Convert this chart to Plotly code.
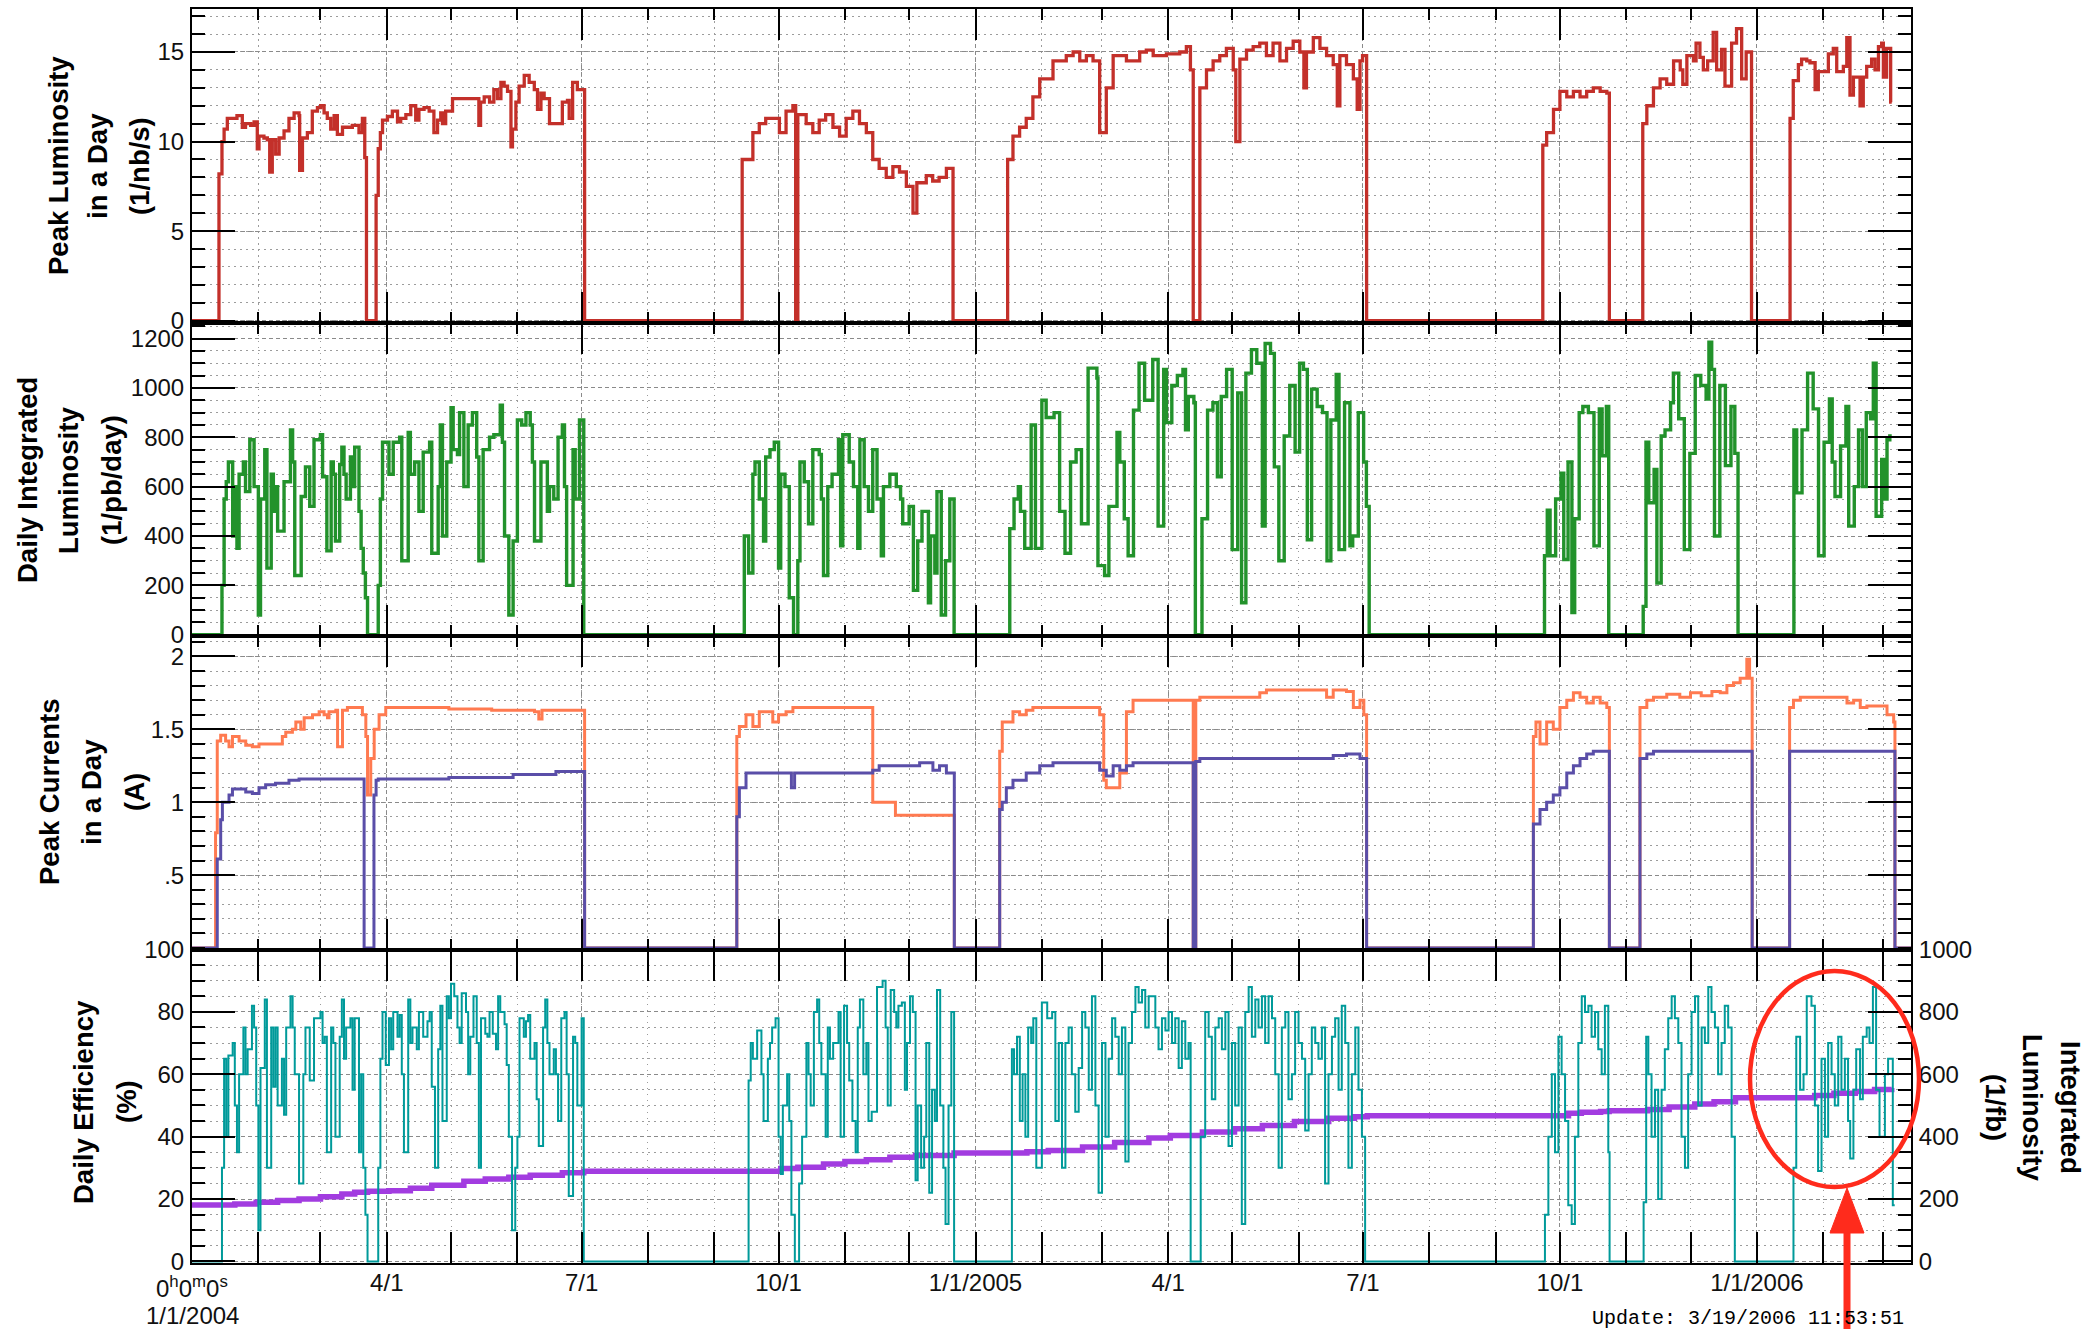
import pandas as pd
import plotly.graph_objects as go

# ---------------- data (day offset from 2004-01-01, value) ----------------
START = pd.Timestamp("2004-01-01")
X_START, X_END = "2004-01-01", "2006-03-14"

peak_lumi = [
    (0, 0), (12.6, 8.2), (14, 10.0), (15, 10.7), (16.5, 11.3), (21, 11.45), (23.5, 10.8), (25, 11.0), (27.4, 10.9),
    (29, 11.1), (30.5, 9.6), (31.3, 10.3), (33.6, 10.2), (35.2, 10.1), (36.3, 8.3), (37.5, 10.1), (39.1, 9.3),
    (40.7, 10.2), (43, 10.6), (45.3, 11.3), (47.7, 11.6), (50, 11.45), (50.3, 8.4), (51.6, 10.2), (53.9, 10.5),
    (56.2, 11.7), (58.6, 11.9), (60.1, 12.0), (61.7, 11.6), (63.2, 11.3), (64.8, 10.7), (66.4, 11.45), (67.9, 10.4),
    (70.3, 10.8), (74.9, 10.9), (78, 10.5), (79.6, 11.3), (80.7, 9.1), (81.5, 0),
    (86, 7.0), (87, 9.6), (88, 10.5), (89, 11.2), (91.3, 11.4), (93.6, 11.7), (96, 11.1), (97.5, 11.3), (99.9, 11.5),
    (102.2, 12.0), (104.5, 11.2), (106, 11.8), (108.4, 11.9), (110.8, 11.7), (113, 10.5), (114.7, 11.2), (116.2, 11.6),
    (117, 11.0), (118.5, 11.7), (121.7, 12.4), (134, 10.9), (134.8, 12.2), (136.5, 12.5), (139, 12.2), (141, 12.9),
    (142.7, 12.4), (144.3, 13.3), (145.8, 13.1), (147.4, 12.8), (149, 9.7), (149.7, 10.7), (151.3, 12.2), (152.8, 13.1),
    (155.2, 13.7), (157.5, 13.3), (159.9, 12.9), (161.4, 11.8), (163, 12.7), (164.5, 12.4), (167, 11.0), (173, 12.2),
    (175.4, 12.3), (176.2, 11.3), (177.8, 13.3), (180, 12.9), (183.4, 0),
    (257, 9.0), (262, 10.5), (265, 11.0), (268, 11.3), (274.4, 10.5), (277.5, 11.7), (280.7, 12.0), (282, 0),
    (283, 11.5), (286.9, 11.0), (290, 10.5), (293, 11.2), (296, 11.5), (299.4, 10.8), (302.5, 10.3), (305.6, 11.3),
    (308.7, 11.7), (311.8, 11.0), (315, 10.5), (318, 9.0), (321, 8.5), (324.3, 8.0), (327.4, 8.6), (330.5, 8.3),
    (333.7, 7.5), (336.8, 6.0), (338.6, 7.7), (343, 8.1), (346, 7.8), (349, 8.0), (352.4, 8.5), (355.5, 0),
    (381, 9.0), (383.5, 10.3), (386.6, 10.8), (389.7, 11.3), (392.8, 12.5), (396, 13.5), (402.2, 14.5), (408.4, 14.8),
    (411.6, 15.0), (414.7, 14.5), (417.8, 14.8), (420.9, 14.5), (424, 10.5), (427.1, 13.0), (430.3, 14.8),
    (436.5, 14.5), (442.7, 15.0), (445.8, 15.1), (449, 14.8), (455.2, 14.9), (461.4, 15.0), (464.5, 15.3),
    (466.4, 14.0), (467.7, 0), (470.8, 13.0), (473.9, 14.0), (477, 14.5), (480.1, 14.8), (483.2, 15.2), (486.4, 14.0),
    (487.6, 10.0), (489.5, 14.6), (492.6, 15.1), (495.7, 15.3), (498.8, 15.5), (501.9, 14.8), (505, 15.5),
    (508.2, 14.5), (511.3, 15.2), (514.4, 15.6), (517.5, 15.0), (519.4, 13.0), (520.6, 15.0), (523.8, 15.8),
    (526.9, 15.2), (530, 14.8), (533.1, 14.3), (535, 12.0), (536.2, 14.8), (539.3, 14.3), (542.5, 13.5),
    (544.3, 11.8), (545.6, 14.5), (546.8, 14.8), (548.7, 0),
    (631, 9.8), (632.8, 10.5), (636, 11.8), (639, 12.8), (642.2, 12.5), (645.3, 12.8), (648.4, 12.5), (651.5, 12.8),
    (654.6, 13.0), (657.8, 12.8), (660.9, 12.7), (662.1, 0),
    (677.7, 11.0), (679.6, 12.0), (682.7, 13.0), (685.8, 13.5), (688.9, 13.2), (692.1, 14.5), (695.2, 14.0),
    (696.4, 13.2), (698.3, 14.8), (701.4, 14.5), (702.6, 15.5), (704.4, 14.7), (706, 14.0), (708, 14.5),
    (710.6, 16.1), (712.2, 14.0), (714.5, 15.15), (716.1, 13.1), (719.2, 15.5), (721.5, 16.3), (723.9, 13.5),
    (726, 15.0), (728.5, 0),
    (746.5, 11.3), (748, 13.4), (750.4, 14.3), (751.9, 14.6), (754.3, 14.5), (755.8, 14.4), (758.2, 12.9),
    (759.7, 13.9), (764.4, 14.9), (766.7, 15.2), (768.3, 13.9), (771.4, 14.2), (773, 15.8), (774.5, 12.6),
    (776.1, 13.6), (779.2, 12.0), (780.7, 13.6), (782.3, 14.2), (784.6, 14.6), (786.2, 14.0), (787.8, 15.3),
    (789.3, 15.5), (790.1, 13.6), (791.6, 15.2), (793.2, 15.2), (793.5, 12.2), (794, 12.2),
]

daily_lumi = [
    (0, 0), (14, 200), (15, 550), (16, 620), (17, 700), (19, 400), (20, 600), (21, 350), (22, 650), (24, 700),
    (25, 580), (27, 790), (29, 600), (31, 80), (32, 550), (34, 750), (35, 270), (37, 650), (38, 500), (39, 600),
    (40, 420), (43, 620), (46, 830), (47, 700), (48, 240), (51, 560), (53, 680), (55, 520), (57, 790), (60, 810),
    (61, 640), (63, 340), (65, 700), (66, 650), (67, 380), (69, 690), (70, 760), (71, 650), (72, 550), (74, 720),
    (75, 600), (76, 760), (78, 500), (79, 350), (80, 250), (81, 150), (82, 0),
    (87, 200), (88, 550), (89, 780), (92, 650), (94, 780), (97, 800), (98, 300), (101, 820), (102, 650), (104, 700),
    (106, 500), (108, 740), (111, 780), (112, 330), (115, 600), (116, 850), (117, 400), (119, 700), (121, 920),
    (122, 750), (124, 730), (125, 900), (127, 600), (129, 850), (131, 900), (133, 720), (134, 300), (136, 750),
    (139, 800), (141, 810), (144, 930), (145, 780), (146, 400), (148, 80), (150, 380), (152, 870), (154, 850),
    (156, 900), (158, 850), (159, 700), (160, 380), (163, 700), (166, 500), (167, 600), (169, 550), (171, 800),
    (173, 850), (174, 600), (175, 200), (178, 750), (179, 550), (181, 870), (183, 0),
    (258, 400), (260, 250), (262, 650), (263, 700), (265, 550), (267, 380), (268, 720), (270, 750), (272, 780),
    (274, 270), (275, 650), (277, 600), (279, 150), (281, 0), (283, 300), (284, 700), (286, 620), (288, 450),
    (290, 750), (293, 730), (294, 550), (295, 240), (297, 600), (299, 650), (302, 790), (303, 360), (304, 810),
    (307, 700), (309, 600), (311, 350), (312, 790), (314, 600), (316, 500), (318, 750), (320, 550), (322, 320),
    (323, 600), (326, 650), (329, 600), (331, 550), (332, 450), (335, 520), (337, 180), (339, 380), (341, 500),
    (344, 130), (345, 400), (347, 250), (348, 580), (350, 80), (352, 300), (354, 550), (356, 0),
    (382, 430), (384, 550), (386, 600), (387, 500), (389, 350), (392, 850), (394, 350), (397, 950), (399, 880),
    (402.7, 900), (405.3, 500), (407.8, 330), (410.4, 700), (413, 750), (415.5, 450), (418.6, 1080), (422.7, 1040),
    (423.2, 280), (426.3, 240), (428.3, 520), (432.1, 820), (433.4, 700), (435.5, 470), (437.3, 320), (439.8, 910),
    (442.4, 1100), (445, 950), (448.8, 1115), (451.3, 440), (453.9, 1075), (455.2, 860), (457.7, 1010),
    (460.3, 1050), (462.9, 1075), (464.1, 830), (465.4, 965), (468, 940), (468.7, 0), (471.8, 470), (474.4, 910),
    (476.9, 940), (479, 640), (480.8, 965), (483.3, 1075), (485.9, 345), (488.5, 980), (490.3, 130), (492.3, 1060),
    (494.9, 1155), (497.4, 1100), (500, 440), (501.3, 1180), (503.8, 1140), (505.6, 680), (507.7, 300),
    (510.2, 805), (512.8, 1010), (515.3, 740), (517.4, 1100), (519.2, 1075), (521, 385), (523, 995), (525.6, 925),
    (528.1, 900), (530.2, 300), (532, 870), (534.5, 1055), (535.8, 345), (538.4, 940), (540.9, 360), (542.2, 400),
    (544.8, 900), (547.3, 700), (548.6, 520), (549.9, 0),
    (631.8, 320), (633.1, 505), (634.4, 320), (637, 550), (639.5, 655), (640.8, 305), (642.8, 700), (644.6, 90),
    (645.9, 470), (648, 900), (649.7, 925), (652.3, 900), (654.9, 360), (657.4, 915), (658.7, 725), (660.7, 925),
    (661.8, 0),
    (677.9, 115), (679.2, 780), (680.5, 535), (683, 670), (684.3, 210), (686.3, 805), (688.1, 830), (690.7, 940),
    (692, 1060), (694.5, 875), (697.1, 345), (699.7, 735), (702.2, 1050), (704.8, 1010), (707.3, 955),
    (708.6, 1185), (709.9, 1075), (711.2, 400), (713.7, 1010), (716.3, 685), (718.9, 925), (720.7, 735), (722.2, 0),
    (748.3, 830), (749.6, 575), (752.1, 830), (754.7, 1060), (757.3, 915), (759.8, 320), (762.4, 780), (764.9, 955),
    (766.2, 700), (767.5, 560), (770.1, 765), (772.6, 925), (773.9, 440), (776.5, 600), (778.5, 830), (780.3, 600),
    (782.1, 900), (784.1, 875), (785.4, 1100), (786.7, 480), (789.3, 710), (790.5, 550), (791.8, 790),
    (793.1, 805), (794, 805),
]

ler_current = [
    (0, 0), (11, 0.79), (11.8, 1.42), (13.4, 1.46), (15.7, 1.42), (17.3, 1.38), (18.9, 1.45), (22, 1.42),
    (25.1, 1.39), (28.2, 1.38), (31.3, 1.40), (42.2, 1.45), (43.8, 1.48), (46.9, 1.50), (48.5, 1.55), (50.8, 1.50),
    (52.4, 1.58), (56.3, 1.60), (59.4, 1.62), (61.7, 1.60), (63.3, 1.58), (64, 1.62), (67.2, 1.63), (68, 1.38),
    (70.3, 1.63), (72.6, 1.65), (78.1, 1.65), (79.6, 1.60), (81.2, 1.45), (82, 1.05), (83.5, 1.30), (85.1, 1.50),
    (87.4, 1.60), (90.5, 1.65), (120, 1.64), (140, 1.63), (160, 1.62), (162, 1.57), (163.5, 1.63), (183.4, 0),
    (254.5, 1.45), (255.7, 1.52), (258.8, 1.60), (262, 1.52), (265, 1.62), (271.3, 1.55), (274, 1.60),
    (277.5, 1.62), (280.7, 1.65), (318, 1.00), (328.6, 0.91), (356.1, 0),
    (377.3, 1.35), (378.5, 1.55), (383.5, 1.62), (386.6, 1.60), (389.7, 1.63), (392.8, 1.65), (424, 1.60),
    (425.9, 1.15), (427.1, 1.10), (433.4, 1.20), (436.5, 1.62), (439.6, 1.70), (467.7, 0), (468.9, 1.70),
    (470.8, 1.72), (498.8, 1.75), (501.9, 1.77), (530, 1.72), (533.1, 1.77), (539.3, 1.76), (542.5, 1.65),
    (545.6, 1.70), (547.4, 1.60), (548.7, 0),
    (626.6, 1.45), (627.8, 1.55), (629.7, 1.40), (632.8, 1.55), (635.9, 1.50), (639, 1.65), (642.2, 1.70),
    (645.3, 1.75), (648.4, 1.72), (651.5, 1.68), (654.6, 1.72), (657.8, 1.68), (660.9, 1.65), (662.1, 0),
    (676.4, 1.65), (679.6, 1.70), (682.7, 1.72), (688.9, 1.74), (695, 1.72), (700, 1.75), (705, 1.73),
    (710, 1.76), (713.9, 1.75), (717, 1.80), (720.1, 1.82), (723.2, 1.85), (726.3, 1.98), (727.6, 1.85), (728.8, 0),
    (746.3, 1.65), (748.1, 1.70), (751.3, 1.72), (770, 1.72), (773.1, 1.68), (776.2, 1.70), (779.3, 1.65),
    (782.4, 1.66), (791.8, 1.60), (794.9, 1.55), (795.5, 0), (803, 0),
]

her_current = [
    (0, 0), (11.8, 0.61), (13.4, 0.88), (14.2, 1.0), (17.3, 1.05), (18.9, 1.09), (25.1, 1.07), (28.2, 1.06),
    (31.3, 1.10), (34.4, 1.12), (39, 1.13), (45.3, 1.15), (50, 1.16), (80.4, 0), (85, 1.05), (86, 1.15),
    (87, 1.16), (120, 1.17), (150, 1.19), (170, 1.21), (183.4, 0),
    (254.5, 0.9), (255.7, 1.1), (258.8, 1.2), (280, 1.1), (281.5, 1.2), (318, 1.22), (321, 1.25), (339.9, 1.27),
    (346.1, 1.22), (349.2, 1.25), (352.4, 1.2), (356.1, 0),
    (377.3, 0.95), (378.5, 1.0), (380.4, 1.1), (383.5, 1.15), (389.7, 1.2), (396, 1.25), (402.2, 1.27), (424, 1.22),
    (427.1, 1.18), (430.3, 1.25), (433.4, 1.22), (436.5, 1.25), (439.6, 1.27), (467.7, 0), (468.9, 1.28),
    (470.8, 1.30), (533.1, 1.32), (539.3, 1.33), (545.6, 1.30), (548.7, 0),
    (626.6, 0.85), (629.7, 0.95), (632.8, 1.0), (635.9, 1.05), (639, 1.1), (642.2, 1.2), (645.3, 1.25),
    (648.4, 1.3), (651.5, 1.33), (654.6, 1.35), (662.1, 0),
    (676.4, 1.30), (679.6, 1.33), (682.7, 1.35), (728.8, 0),
    (746.3, 1.35), (795.5, 0), (803, 0),
]

efficiency = [
    (0, 0), (14, 30), (15, 65), (16, 40), (17, 66), (19, 70), (20, 50), (21, 35), (22, 60), (24, 75), (25, 60),
    (26, 68), (28, 82), (29, 75), (30, 50), (31, 10), (32, 62), (34, 84), (35, 30), (37, 75), (38, 56), (39, 75),
    (40, 50), (42, 65), (43, 47), (44, 75), (46, 85), (47, 75), (48, 60), (50, 25), (52, 60), (53, 75), (55, 58),
    (57, 78), (60, 80), (61, 70), (62, 72), (63, 35), (65, 75), (66, 70), (67, 40), (69, 72), (70, 84), (71, 65),
    (72, 75), (74, 78), (75, 55), (76, 78), (78, 35), (79, 60), (80, 30), (81, 15), (82, 0),
    (87, 30), (88, 65), (89, 80), (90.5, 63), (92, 78), (93, 68), (94, 80), (96, 72), (97, 79), (98, 60), (99, 35),
    (101, 84), (102, 70), (103, 75), (105, 68), (106, 80), (108, 72), (110, 77), (111, 80), (112, 56), (113.5, 30),
    (115, 68), (116, 82), (117, 45), (119, 85), (120, 78), (121, 89), (122.5, 85), (124, 75), (125, 70), (126, 86),
    (128, 80), (129, 60), (130, 72), (131.5, 85), (133, 70), (134, 30), (135, 78), (137, 73), (138, 72), (139, 80),
    (140.5, 73), (142, 68), (143, 85), (144, 80), (146, 76), (147, 63), (148, 40), (149.5, 10), (151, 30),
    (152, 40), (153, 78), (155, 72), (156, 77), (157, 79), (158, 65), (160, 70), (161, 52), (162, 37), (164, 75),
    (165, 84), (166, 70), (167, 60), (169, 68), (170, 60), (171, 45), (172.5, 78), (174, 80), (175, 60), (176, 21),
    (178, 72), (179, 70), (180, 50), (182, 78), (183, 0),
    (260, 58), (261, 70), (262, 65), (264, 74), (266, 60), (267, 45), (269, 65), (270, 70), (271, 75), (272.6, 78),
    (274, 40), (275, 28), (276, 50), (278, 60), (279, 45), (280, 15), (281.6, 0), (283.6, 25), (285, 40), (287, 70),
    (288, 60), (289, 50), (290.5, 80), (292, 84), (293, 70), (294, 60), (296, 40), (297, 75), (298, 65),
    (299.5, 70), (302, 80), (303, 40), (304.6, 82), (306, 70), (307, 58), (308.5, 45), (310, 35), (311, 75),
    (312, 84), (313.6, 60), (315, 70), (316, 45), (317.5, 48), (320, 88), (322.6, 90), (324, 75), (325, 50),
    (326.4, 87), (328, 80), (329, 75), (330, 82), (331.6, 83), (333, 55), (334, 70), (335.4, 85), (336.7, 80),
    (338, 26), (339, 50), (340.6, 30), (342, 40), (343, 70), (344.4, 22), (345.7, 55), (347, 45), (348, 87),
    (349.5, 50), (351, 30), (352, 12), (353.4, 50), (354.7, 80), (356, 0),
    (383, 68), (384, 60), (385.4, 72), (386.7, 45), (388, 60), (389.3, 40), (390.6, 75), (392, 70), (393, 78),
    (394.4, 30), (397, 83), (399.5, 78), (401.8, 80), (403.3, 45), (404.9, 70), (406.4, 30), (408, 70),
    (409.5, 75), (411, 60), (412.6, 48), (414.2, 62), (415.8, 80), (417.3, 75), (418.9, 55), (420.4, 85),
    (422, 50), (423.5, 22), (425.1, 70), (426.7, 40), (428.2, 65), (429.8, 78), (431.3, 72), (432.9, 60),
    (434.4, 75), (436, 32), (437.5, 70), (439.1, 80), (440.7, 88), (442.2, 83), (443.8, 87), (445.3, 75),
    (446.9, 85), (448.4, 85), (450, 75), (451.5, 68), (453.1, 78), (454.7, 74), (456.2, 80), (457.8, 70),
    (459.3, 78), (460.9, 62), (462.4, 77), (464, 65), (465.5, 70), (466.5, 0), (471.2, 40), (473.3, 80),
    (474.9, 72), (476.4, 52), (478, 75), (479.6, 78), (481.1, 68), (482.7, 80), (484.2, 37), (485.8, 70),
    (487.3, 50), (488.9, 75), (490.4, 12), (492, 80), (493.6, 88), (495.1, 72), (496.7, 84), (498.2, 75),
    (499.8, 85), (501.3, 70), (502.9, 85), (504.5, 78), (506, 60), (507.6, 30), (509.1, 75), (510.7, 80),
    (512.2, 52), (513.8, 60), (515.3, 80), (516.9, 70), (518.5, 65), (520, 42), (521.6, 60), (523.1, 75),
    (524.7, 70), (526.2, 65), (527.8, 75), (529.3, 25), (530.9, 60), (532.5, 72), (534, 78), (535.6, 55),
    (537.1, 82), (538.7, 70), (540.2, 30), (541.8, 60), (543.4, 75), (544.9, 55), (546.5, 40), (548, 0),
    (632, 15), (633.6, 40), (635.2, 60), (636.7, 35), (638.3, 72), (639.8, 60), (641.4, 45), (642.9, 18),
    (644.5, 12), (646, 40), (647.6, 70), (649.2, 85), (650.7, 80), (652.3, 82), (653.8, 72), (655.4, 80),
    (656.9, 68), (658.5, 60), (660, 82), (661.6, 35), (662.2, 0),
    (678.1, 19), (679.3, 72), (680.3, 60), (681.8, 40), (683.4, 55), (684.9, 20), (686.5, 55), (688, 68),
    (689.6, 78), (691.2, 85), (692.7, 78), (694.3, 70), (695.8, 40), (697.4, 30), (698.9, 60), (700.5, 80),
    (702.1, 85), (703.6, 50), (705.2, 75), (706.7, 70), (708.3, 88), (709.8, 80), (711.4, 75), (712.9, 60),
    (714.5, 70), (716, 82), (717.6, 75), (719.2, 40), (720.7, 0),
    (748.1, 30), (749.4, 72), (751.2, 55), (752.8, 60), (754.3, 85), (756.5, 82), (758.1, 50), (759.6, 29),
    (761.2, 65), (762.8, 40), (764.3, 70), (765.9, 60), (767.4, 50), (769, 72), (770.5, 55), (772.1, 65),
    (773.6, 45), (774.6, 33), (776.1, 55), (777.4, 68), (779.2, 52), (780.5, 72), (782.3, 75), (783.6, 70),
    (785.2, 88), (786.7, 55), (788.3, 40), (790.8, 60), (792.3, 65), (794.5, 18), (795.4, 18),
]

integ_lumi = [
    (0, 181), (14, 181), (20, 184), (30, 190), (40, 195), (50, 200), (60, 207), (70, 216), (76, 222), (82, 225),
    (92, 227), (102, 235), (112, 244), (127, 257), (137, 264), (148, 270), (158, 276), (173, 284), (183, 289),
    (258, 289), (275, 298), (283, 302), (295, 312), (305, 320), (315, 326), (326, 334), (338, 340), (356, 348),
    (382, 348), (390, 352), (400, 356), (416, 367), (431, 381), (447, 396), (457, 404), (472, 415), (487, 425),
    (500, 436), (515, 449), (531, 459), (543, 464), (549, 467), (632, 467), (643, 475), (649, 478), (658, 481),
    (662, 483), (678, 483), (680, 487), (690, 495), (702, 505), (711, 512), (721, 525), (748, 525), (758, 532),
    (767, 539), (777, 545), (786, 551), (794, 556),
]

quarter_ticks = ["2004-01-01", "2004-04-01", "2004-07-01", "2004-10-01", "2005-01-01",
                 "2005-04-01", "2005-07-01", "2005-10-01", "2006-01-01"]
quarter_labels = ["", "4/1", "7/1", "10/1", "1/1/2005", "4/1", "7/1", "10/1", "1/1/2006"]
first_time_label = "0<sup>h</sup>0<sup>m</sup>0<sup>s</sup>"
first_date_label = "1/1/2004"

# ---------------- styling ----------------
YTICKFONT = dict(family="Liberation Sans, Arial, Helvetica, sans-serif", size=24, color="#111")
XTICKFONT = dict(family="Liberation Sans, Arial, Helvetica, sans-serif", size=24, color="#111")
TITLEFONT = dict(family="Liberation Sans Narrow, Arial Narrow, Liberation Sans, Arial, sans-serif",
                 size=27.5, color="black", weight="bold")
MAJ_GRID = "#8a8a8a"
MIN_GRID = "#9c9c9c"
MAJ_DASH = "4px,3px"
MIN_DASH = "1.5px,4.5px"

RED = "#c3302a"
GREEN = "#22922b"
ORANGE = "#ff7a50"
BLUE = "#5a4ea8"
TEAL = "#009a9a"
PURPLE = "#a23ce0"

PLOT_L, PLOT_R, PLOT_T, PLOT_B = 192, 1911, 9, 1263   # plot-area edges in pixels
PW, PH = PLOT_R - PLOT_L, PLOT_B - PLOT_T


def to_xy(series):
    days = [p[0] for p in series]
    vals = [p[1] for p in series]
    return START + pd.to_timedelta(days, unit="D"), vals


fig = go.Figure()


def add(series, color, width, xa, ya):
    x, y = to_xy(series)
    fig.add_trace(go.Scatter(x=x, y=y, mode="lines", xaxis=xa, yaxis=ya, showlegend=False, hoverinfo="skip",
                             line=dict(color=color, width=width, shape="hv")))


add(peak_lumi, RED, 3.3, "x", "y")
add(daily_lumi, GREEN, 3.4, "x2", "y2")
add(ler_current, ORANGE, 3.0, "x3", "y3")
add(her_current, BLUE, 3.0, "x3", "y3")
add(integ_lumi, PURPLE, 5.5, "x4", "y4")
add(efficiency, TEAL, 2.0, "x4", "y5")


def xaxis_cfg(anchor, labels):
    return dict(
        type="date", range=[X_START, X_END], anchor=anchor, automargin=False,
        tickmode="array", tickvals=quarter_ticks, ticktext=quarter_labels, showticklabels=labels,
        ticks="inside", ticklen=31, tickwidth=2, tickcolor="black",
        showline=True, linecolor="black", linewidth=2, mirror="allticks",
        showgrid=True, gridcolor=MAJ_GRID, gridwidth=1, griddash=MAJ_DASH,
        minor=dict(dtick="M1", tick0="2004-01-01", ticks="inside", ticklen=11, tickwidth=2, tickcolor="black",
                   showgrid=True, gridcolor=MIN_GRID, gridwidth=1, griddash=MIN_DASH),
        zeroline=False, tickfont=XTICKFONT, ticklabelstandoff=-3, fixedrange=True)


def yaxis_cfg(domain, rng, anchor, minor_dtick, grid=True, **kw):
    d = dict(
        domain=domain, range=rng, anchor=anchor, automargin=False,
        ticks="inside", ticklen=43, tickwidth=2, tickcolor="black",
        showline=True, linecolor="black", linewidth=2, mirror="allticks",
        showgrid=grid, gridcolor=MAJ_GRID, gridwidth=1, griddash=MAJ_DASH,
        minor=dict(dtick=minor_dtick, tick0=0, ticks="inside", ticklen=13, tickwidth=2, tickcolor="black",
                   showgrid=grid, gridcolor=MIN_GRID, gridwidth=1, griddash=MIN_DASH),
        zeroline=False, tickfont=YTICKFONT, ticklabelstandoff=1, fixedrange=True)
    d.update(kw)
    return d


fig.update_layout(
    width=2091, height=1329,
    margin=dict(l=PLOT_L, r=2091 - PLOT_R, t=PLOT_T, b=1329 - PLOT_B, autoexpand=False),
    paper_bgcolor="white", plot_bgcolor="white",
    hovermode=False,
    xaxis=xaxis_cfg("y", False),
    xaxis2=xaxis_cfg("y2", False),
    xaxis3=xaxis_cfg("y3", False),
    xaxis4=xaxis_cfg("y4", True),
    yaxis=yaxis_cfg([0.75, 1.0], [-0.1, 17.4], "x", 1, tickmode="array", tickvals=[0, 5, 10, 15]),
    yaxis2=yaxis_cfg([0.5, 0.75], [-5, 1265], "x2", 50, tick0=0, dtick=200),
    yaxis3=yaxis_cfg([0.25, 0.5], [-0.01, 2.14], "x3", 0.1, tickmode="array",
                     tickvals=[0.5, 1, 1.5, 2], ticktext=[".5", "1", "1.5", "2"]),
    yaxis4=yaxis_cfg([0.0, 0.25], [-5, 1000], "x4", 50, side="right", tick0=0, dtick=200),
    yaxis5=yaxis_cfg([0.0, 0.25], [-0.5, 100], "x4", 5, grid=False, overlaying="y4", side="left",
                     tick0=0, dtick=20),
)


def fx(px):
    return (px - PLOT_L) / PW


def fy(py):
    return (PLOT_B - py) / PH


# ---------------- axis titles (one annotation per line; centre pixel x, centre pixel y) ----------------
title_lines = [
    ("Peak Luminosity", 58, 166, -90), ("in a Day", 97, 166, -90), ("(1/nb/s)", 139, 166, -90),
    ("Daily Integrated", 27, 480, -90), ("Luminosity", 68, 480, -90), ("(1/pb/day)", 111, 480, -90),
    ("Peak Currents", 49, 792, -90), ("in a Day", 91, 792, -90), ("(A)", 134, 792, -90),
    ("Daily Efficiency", 83, 1102, -90), ("(%)", 126, 1102, -90),
    ("Integrated", 2071, 1107, 90), ("Luminosity", 2033, 1107, 90), ("(1/fb)", 1996, 1107, 90),
]
for text, px, py, ang in title_lines:
    fig.add_annotation(text=text, xref="paper", yref="paper", x=fx(px), y=fy(py),
                       textangle=ang, xanchor="center", yanchor="middle", showarrow=False, font=TITLEFONT)

# two-line label of the first x tick (time of day, then date)
fig.add_annotation(text=first_time_label, xref="paper", yref="paper", x=0, y=fy(1287),
                   xanchor="center", yanchor="middle", showarrow=False, font=XTICKFONT)
fig.add_annotation(text=first_date_label, xref="paper", yref="paper", x=0, y=fy(1315),
                   xanchor="center", yanchor="middle", showarrow=False, font=XTICKFONT)

fig.add_annotation(text="Update: 3/19/2006 11:53:51", xref="paper", yref="paper",
                   x=fx(1906), y=fy(1318), xanchor="right", yanchor="middle", showarrow=False,
                   font=dict(family="Liberation Mono, DejaVu Sans Mono, monospace", size=20, color="black"))

# ---------------- highlight circle and arrow (pixel positions converted to paper) ----------------
HL = "#ff2b1c"
fig.add_shape(type="circle", xref="paper", yref="paper", x0=fx(1750), x1=fx(1919), y0=fy(1187), y1=fy(971),
              line=dict(color=HL, width=4.5), layer="above")
fig.add_shape(type="line", xref="paper", yref="paper", x0=fx(1847), x1=fx(1847), y0=fy(1345), y1=fy(1222),
              line=dict(color=HL, width=7), layer="above")
fig.add_shape(type="path", xref="paper", yref="paper",
              path=f"M {fx(1830):.5f} {fy(1233):.5f} L {fx(1847):.5f} {fy(1188):.5f} L {fx(1864):.5f} {fy(1233):.5f} Z",
              fillcolor=HL, line=dict(color=HL, width=1), layer="above")

# remove the browser's default page margin so the figure sits at the window's top-left corner
fig.write_html("out.html", config={"displayModeBar": False, "staticPlot": True},
               post_script="document.body.style.margin='0px';document.body.style.padding='0px';"
                           "document.body.style.overflow='hidden';")
